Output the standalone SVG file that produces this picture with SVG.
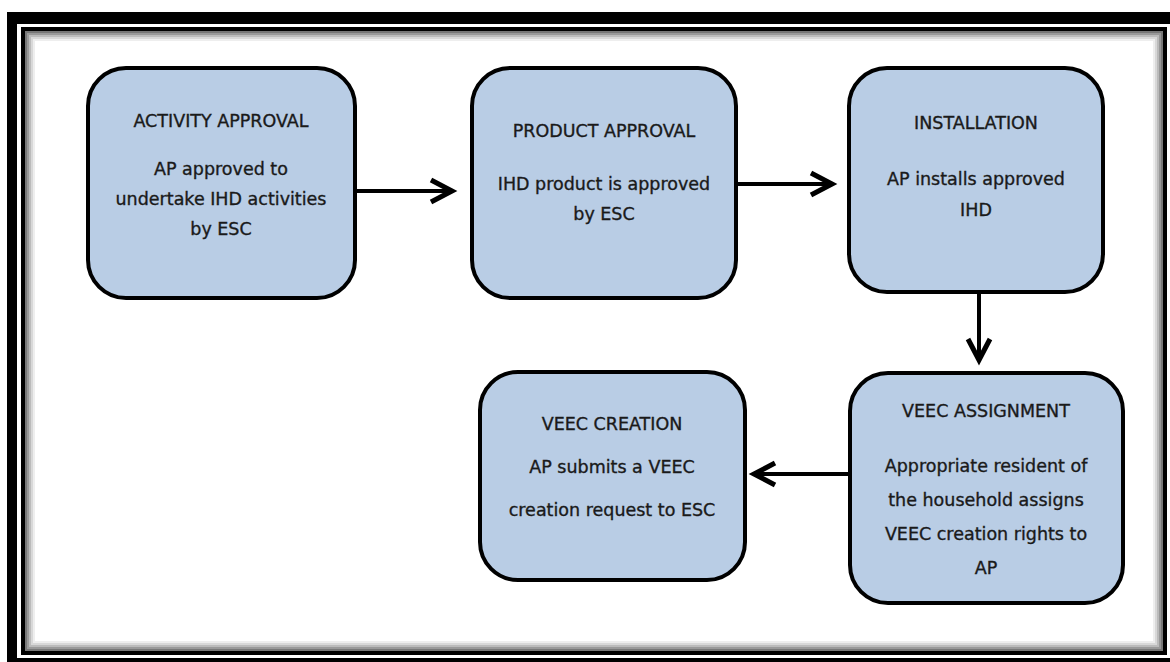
<svg xmlns="http://www.w3.org/2000/svg" width="1170" height="662" viewBox="0 0 1170 662">
<style>
.box{fill:#b9cde5;stroke:#000;stroke-width:4}
.t{font-family:"DejaVu Sans","Liberation Sans",sans-serif;font-size:17.5px;fill:#1a1a1a;stroke:#1a1a1a;stroke-width:0.35;text-anchor:middle}
.conn{stroke:#000;stroke-width:4;fill:none;marker-end:url(#arr)}
</style>
<defs>
<marker id="arr" markerUnits="userSpaceOnUse" markerWidth="30" markerHeight="30" refX="20" refY="12" orient="auto" overflow="visible">
<path d="M1,1 L22,12 L1,23" fill="none" stroke="#000" stroke-width="5" stroke-linejoin="miter"/>
</marker>
</defs>
<g id="frame">
<rect x="7" y="12" width="1180" height="670" fill="#000"/>
<rect x="17" y="24" width="1160" height="634" fill="#fff"/>
<rect x="23" y="29" width="1142" height="624" fill="none" stroke="#000" stroke-width="4"/>
<rect x="26" y="32" width="1136" height="618" fill="none" stroke="#777" stroke-width="2"/>
<rect x="28" y="34" width="1132" height="614" fill="none" stroke="#999" stroke-width="2"/>
<rect x="30" y="36" width="1128" height="610" fill="none" stroke="#bbb" stroke-width="2"/>
<rect x="32" y="38" width="1124" height="606" fill="none" stroke="#d8d8d8" stroke-width="2"/>
<rect x="34" y="40" width="1120" height="602" fill="none" stroke="#eee" stroke-width="2"/>
</g>
<g id="connectors">
<path class="conn" d="M355,191 L450,191"/>
<path class="conn" d="M736,184 L830,184"/>
<path class="conn" d="M979,292 L979,358"/>
<path class="conn" d="M850,474 L756,474"/>
</g>
<g id="activity-approval">
<rect class="box" x="88" y="68" width="267" height="230" rx="38"/>
<text class="t" x="221" y="127">ACTIVITY APPROVAL</text>
<text class="t" x="221" y="175">AP approved to</text>
<text class="t" x="221" y="205">undertake IHD activities</text>
<text class="t" x="221" y="235">by ESC</text>
</g>
<g id="product-approval">
<rect class="box" x="472" y="68" width="264" height="230" rx="38"/>
<text class="t" x="604" y="137">PRODUCT APPROVAL</text>
<text class="t" x="604" y="190">IHD product is approved</text>
<text class="t" x="604" y="220">by ESC</text>
</g>
<g id="installation">
<rect class="box" x="849" y="68" width="254" height="224" rx="38"/>
<text class="t" x="976" y="129">INSTALLATION</text>
<text class="t" x="976" y="185">AP installs approved</text>
<text class="t" x="976" y="216">IHD</text>
</g>
<g id="veec-assignment">
<rect class="box" x="850" y="373" width="273" height="230" rx="38"/>
<text class="t" x="986" y="417">VEEC ASSIGNMENT</text>
<text class="t" x="986" y="472">Appropriate resident of</text>
<text class="t" x="986" y="506">the household assigns</text>
<text class="t" x="986" y="540">VEEC creation rights to</text>
<text class="t" x="986" y="574">AP</text>
</g>
<g id="veec-creation">
<rect class="box" x="480" y="372" width="265" height="208" rx="38"/>
<text class="t" x="612" y="430">VEEC CREATION</text>
<text class="t" x="612" y="473">AP submits a VEEC</text>
<text class="t" x="612" y="516">creation request to ESC</text>
</g>
</svg>
